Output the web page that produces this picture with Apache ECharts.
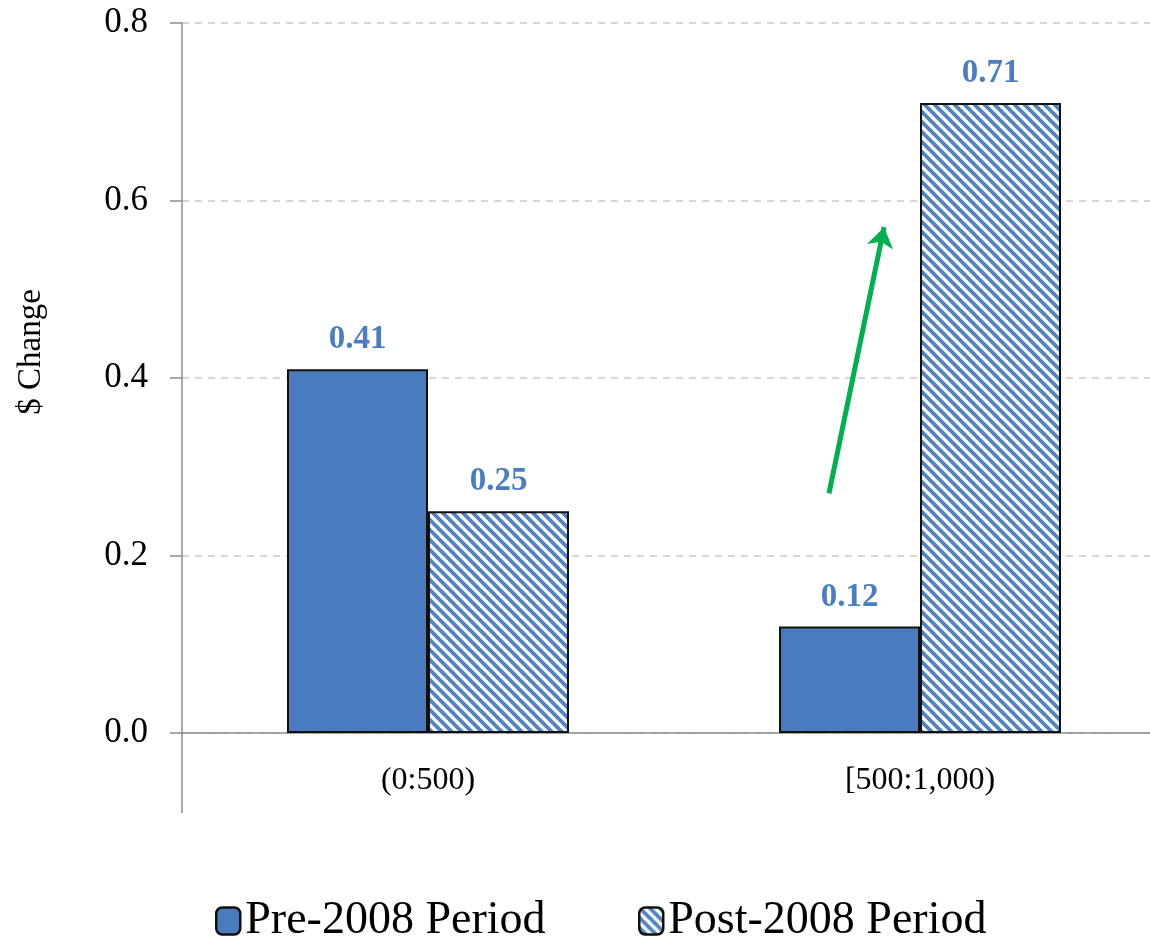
<!DOCTYPE html>
<html>
<head>
<meta charset="utf-8">
<title>$ Change by range</title>
<script src="https://cdn.jsdelivr.net/npm/echarts@6/dist/echarts.min.js"></script>
<style>
  html, body { margin: 0; padding: 0; background: #ffffff; }
  #chart { width: 1150px; height: 938px; }
</style>
</head>
<body>
<div id="chart"></div>
<script>
// Categories and series values
const categories = ['(0:500)', '[500:1,000)'];
const preValues = [0.41, 0.12];
const postValues = [0.25, 0.71];
const seriesNames = ['Pre-2008 Period', 'Post-2008 Period'];
const yTicks = [0, 0.2, 0.4, 0.6, 0.8];

// Green arrow, in (category-span units, value) coordinates
const arrowFrom = [1.315, 0.27];
const arrowTo = [1.427, 0.57];

const FONT = 'Liberation Serif';
const BLUE = '#4a7bbf';
const AXIS_GREY = '#8c8c8c';

// Diagonal hatch tile for the post-2008 bars
function hatchTile() {
  const size = 20, step = 10;
  const c = document.createElement('canvas');
  c.width = size; c.height = size;
  const g = c.getContext('2d');
  g.fillStyle = '#ffffff';
  g.fillRect(0, 0, size, size);
  g.strokeStyle = '#5284c4';
  g.lineWidth = 3.8;
  for (let x0 = -size; x0 <= size; x0 += step) {
    g.beginPath();
    g.moveTo(x0 - 2, -2);
    g.lineTo(x0 + size + 2, size + 2);
    g.stroke();
  }
  return c;
}
const hatch = { image: hatchTile(), repeat: 'repeat' };

const chart = echarts.init(document.getElementById('chart'), null, { renderer: 'canvas' });

const gridLeft = 182, gridTop = 23, gridBottom = 205;

const legendBase = {
  top: 893,
  icon: 'roundRect',
  itemWidth: 24,
  itemHeight: 27,
  itemGap: 4,
  itemStyle: { borderColor: '#111111', borderWidth: 2.5 },
  textStyle: { fontFamily: FONT, fontSize: 46, color: '#000000', lineHeight: 46 },
  selectedMode: false
};

const barLabel = {
  show: true, position: 'top', distance: 13,
  fontFamily: FONT, fontSize: 33, fontWeight: 'bold', color: '#4a7ec2',
  formatter: p => p.value.toFixed(2)
};

const option = {
  backgroundColor: '#ffffff',
  animation: false,
  textStyle: { fontFamily: FONT },
  grid: {
    left: gridLeft, top: gridTop, bottom: gridBottom, width: 984,
    containLabel: false, outerBoundsMode: 'none'
  },
  legend: [
    Object.assign({ data: [seriesNames[0]], left: 210 }, legendBase),
    Object.assign({ data: [seriesNames[1]], left: 633 }, legendBase)
  ],
  xAxis: [{
    type: 'category',
    data: categories,
    axisLine: { lineStyle: { color: AXIS_GREY, width: 1.5 } },
    axisTick: { show: false },
    axisLabel: { fontFamily: FONT, fontSize: 32, color: '#000000', margin: 32 },
    splitLine: { show: false }
  }, {
    type: 'value',
    min: 0,
    max: 2,
    show: false
  }],
  yAxis: {
    type: 'value',
    min: 0,
    max: 0.8,
    interval: 0.2,
    name: '$ Change',
    nameLocation: 'middle',
    nameGap: 134,
    nameTextStyle: { fontFamily: FONT, fontSize: 33, color: '#000000', padding: [0, 0, 0, 52] },
    axisLine: { show: true, lineStyle: { color: AXIS_GREY, width: 1.5 } },
    axisTick: { show: true, inside: false, length: 12, lineStyle: { color: AXIS_GREY, width: 1.5 } },
    axisLabel: {
      fontFamily: FONT, fontSize: 35, color: '#000000', margin: 34,
      formatter: v => v.toFixed(1)
    },
    splitLine: { show: true, lineStyle: { color: '#c9c9c9', width: 1.5, type: [7, 6] } }
  },
  series: [{
    name: seriesNames[0],
    type: 'bar',
    data: preValues,
    barWidth: 141,
    barGap: '0%',
    itemStyle: { color: BLUE, borderColor: '#111111', borderWidth: 2 },
    label: barLabel
  }, {
    name: seriesNames[1],
    type: 'bar',
    data: postValues,
    barWidth: 141,
    barGap: '0%',
    itemStyle: { color: hatch, borderColor: '#111111', borderWidth: 2 },
    label: barLabel
  }, {
    name: 'arrow',
    type: 'lines',
    coordinateSystem: 'cartesian2d',
    xAxisIndex: 1,
    yAxisIndex: 0,
    silent: true,
    symbol: ['none', 'arrow'],
    symbolSize: 20,
    lineStyle: { color: '#00b050', width: 5, opacity: 1, curveness: 0 },
    data: [{ coords: [arrowFrom, arrowTo] }],
    z: 5
  }],
  graphic: [{
    // the value axis line continues a little below the zero line
    type: 'line',
    shape: { x1: gridLeft, y1: 938 - gridBottom, x2: gridLeft, y2: 938 - gridBottom + 80 },
    style: { stroke: AXIS_GREY, lineWidth: 1.5 },
    silent: true
  }]
};

chart.setOption(option);
</script>
</body>
</html>
